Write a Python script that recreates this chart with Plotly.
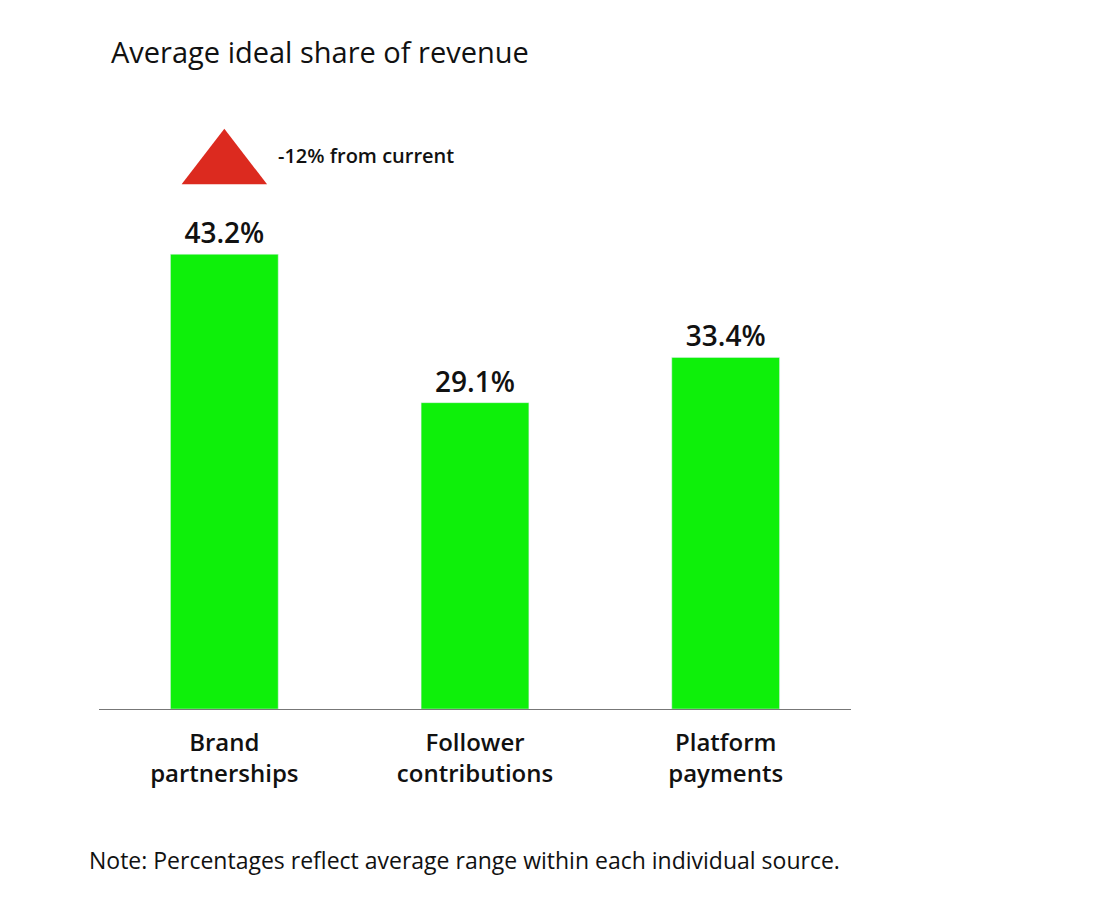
import plotly.graph_objects as go

categories = ["Brand<br>partnerships", "Follower<br>contributions", "Platform<br>payments"]
values = [43.2, 29.1, 33.4]
labels = ["43.2%", "29.1%", "33.4%"]
marker_y = [51.6]
note_text = "-12% from current"

fig = go.Figure()
fig.add_bar(x=categories, y=values, text=labels, textposition="outside",
            marker_color="#0ef00a", width=0.43, cliponaxis=False,
            textfont=dict(size=28, color="#111", family="Open Sans", weight=600))
fig.add_scatter(x=[categories[0]], y=marker_y, mode="markers",
                marker=dict(symbol="triangle-up", size=74, color="#dc2a1f"),
                cliponaxis=False, hoverinfo="skip")
fig.add_annotation(x=categories[0], y=marker_y[0] + 1.0, text=note_text, showarrow=False,
                   xanchor="left", xshift=52, font=dict(size=20, color="#111", weight=600))

fig.update_layout(
    width=1098, height=905, showlegend=False,
    plot_bgcolor="white", paper_bgcolor="white",
    margin=dict(l=91, r=255, t=122, b=204, autoexpand=False),
    font=dict(family="Open Sans", color="#111"),
    title=dict(text="Average ideal share of revenue", x=103/1098, xanchor="left",
               y=1-45/905, yanchor="middle", font=dict(size=29, color="#111", weight=500)),
    xaxis=dict(showline=True, linecolor="#777", linewidth=1, ticks="",
               tickfont=dict(size=24, color="#111", weight=600), ticklabelstandoff=12),
    yaxis=dict(range=[0, 55], visible=False, showgrid=False),
)
fig.add_annotation(text="Note: Percentages reflect average range within each individual source.",
                   xref="paper", yref="paper", x=-12/752, y=-(860-709)/579,
                   xanchor="left", yanchor="middle", showarrow=False,
                   font=dict(size=23, color="#111"))
fig.write_html("out.html")
